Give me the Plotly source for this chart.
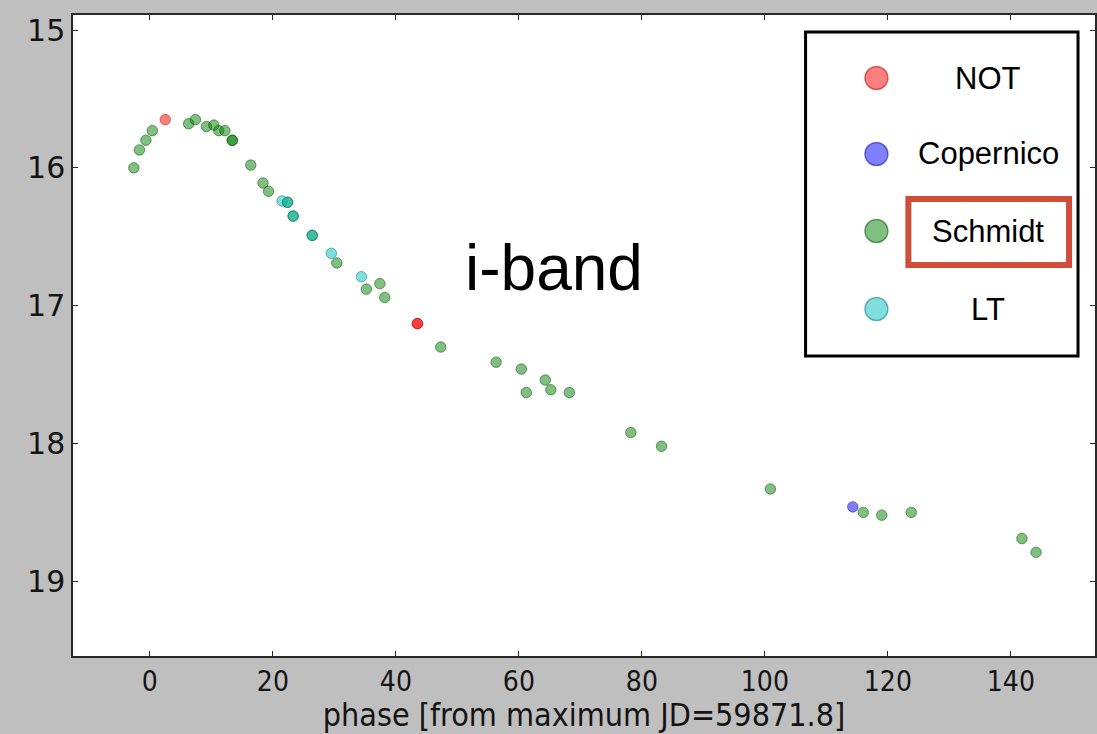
import plotly.graph_objects as go

# ---- data (phase [days], i-band magnitude) ----
not_phase = [2.5, 43.5, 43.5]
not_mag = [15.65, 17.13, 17.13]

cop_phase = [114.3]
cop_mag = [18.46]

schmidt_phase = [-2.6, -1.7, -0.65, 0.4, 6.3, 7.4, 9.2, 10.4, 11.2, 12.2, 13.4, 13.4,
                 16.4, 18.4, 19.3, 22.4, 23.3, 26.4, 30.4, 35.2, 37.4, 38.2, 47.3,
                 56.3, 60.4, 61.2, 64.3, 65.2, 68.2, 78.2, 83.2, 100.9, 116.0, 119.0,
                 123.8, 141.8, 144.1]
schmidt_mag = [16.00, 15.87, 15.80, 15.73, 15.68, 15.65, 15.70, 15.69, 15.73, 15.73, 15.80, 15.80,
               15.98, 16.11, 16.17, 16.25, 16.35, 16.49, 16.69, 16.88, 16.84, 16.94, 17.30,
               17.41, 17.46, 17.63, 17.54, 17.61, 17.63, 17.92, 18.02, 18.33, 18.50, 18.52,
               18.50, 18.69, 18.79]

lt_phase = [21.5, 22.4, 23.3, 26.4, 29.5, 34.4]
lt_mag = [16.24, 16.25, 16.35, 16.49, 16.62, 16.79]

series_names = ["NOT", "Copernico", "Schmidt", "LT"]
fill_colors = ["rgba(255,0,0,0.5)", "rgba(0,0,255,0.5)", "rgba(0,128,0,0.5)", "rgba(0,191,191,0.5)"]
edge_colors = ["rgba(160,0,0,0.5)", "rgba(0,0,150,0.5)", "rgba(0,70,0,0.5)", "rgba(0,110,110,0.5)"]

x_ticks = [0, 20, 40, 60, 80, 100, 120, 140]
y_ticks = [15, 16, 17, 18, 19]

W, H = 1097, 734
ML, MR, MT, MB = 73, 0, 15, 78

fig = go.Figure()
for name, xs, ys, fc, ec in zip(series_names,
                                [not_phase, cop_phase, schmidt_phase, lt_phase],
                                [not_mag, cop_mag, schmidt_mag, lt_mag],
                                fill_colors, edge_colors):
    fig.add_trace(go.Scatter(x=xs, y=ys, mode="markers", name=name, showlegend=False,
                             marker=dict(size=10.5, color=fc, line=dict(color=ec, width=1))))

pw, ph = W - ML - MR, H - MT - MB


def px_x(p):
    return (p - ML) / pw


def px_y(p):
    return 1 - (p - MT) / ph


shapes = []
annotations = []
# legend box
shapes.append(dict(type="rect", xref="paper", yref="paper",
                   x0=px_x(807), x1=px_x(1080), y0=px_y(356), y1=px_y(32),
                   line=dict(color="black", width=3), fillcolor="white", layer="above"))
row_y = [78, 154, 231, 309]
r = 11.5
for name, fc, ec, yy in zip(series_names, fill_colors, edge_colors, row_y):
    shapes.append(dict(type="circle", xref="paper", yref="paper",
                       x0=px_x(878 - r), x1=px_x(878 + r), y0=px_y(yy + r), y1=px_y(yy - r),
                       fillcolor=fc, line=dict(color=ec, width=1.5), layer="above"))
    annotations.append(dict(text=name, xref="paper", yref="paper", x=px_x(990), y=px_y(yy),
                            xanchor="center", yanchor="middle", showarrow=False,
                            font=dict(family="Liberation Sans, Arial", size=31, color="black")))
# hand-drawn highlight around "Schmidt"
shapes.append(dict(type="rect", xref="paper", yref="paper",
                   x0=px_x(910), x1=px_x(1071), y0=px_y(265), y1=px_y(199),
                   line=dict(color="rgb(206,78,58)", width=6), layer="above"))
# band label
annotations.append(dict(text="i-band", xref="paper", yref="paper", x=px_x(555), y=px_y(268),
                        xanchor="center", yanchor="middle", showarrow=False,
                        font=dict(family="Liberation Sans, Arial", size=64, color="black")))

fig.update_layout(
    width=W, height=H,
    margin=dict(l=ML, r=MR, t=MT, b=MB, pad=0),
    paper_bgcolor="rgb(191,191,191)",
    plot_bgcolor="white",
    shapes=shapes,
    annotations=annotations,
    showlegend=False,
)
fig.update_xaxes(range=[-12.5, 153.68], tickvals=x_ticks, ticktext=[str(v) for v in x_ticks],
                 showgrid=False, zeroline=False, showline=True, linecolor="rgb(40,40,40)", linewidth=1.5,
                 mirror="ticks", ticks="inside", ticklen=5, tickcolor="rgb(40,40,40)",
                 tickfont=dict(family="DejaVu Sans Condensed, DejaVu Sans", size=28, color="rgb(20,20,20)"),
                 title=dict(text="phase [from maximum JD=59871.8]", standoff=2,
                            font=dict(family="DejaVu Sans Condensed, DejaVu Sans", size=32, color="rgb(20,20,20)")))
fig.update_yaxes(range=[19.542, 14.891], tickvals=y_ticks, ticktext=[str(v) for v in y_ticks],
                 showgrid=False, zeroline=False, showline=True, linecolor="rgb(40,40,40)", linewidth=1.5,
                 mirror="ticks", ticks="inside", ticklen=5, tickcolor="rgb(40,40,40)",
                 tickfont=dict(family="DejaVu Sans", size=30, color="rgb(20,20,20)"))

fig.write_html("out.html")
